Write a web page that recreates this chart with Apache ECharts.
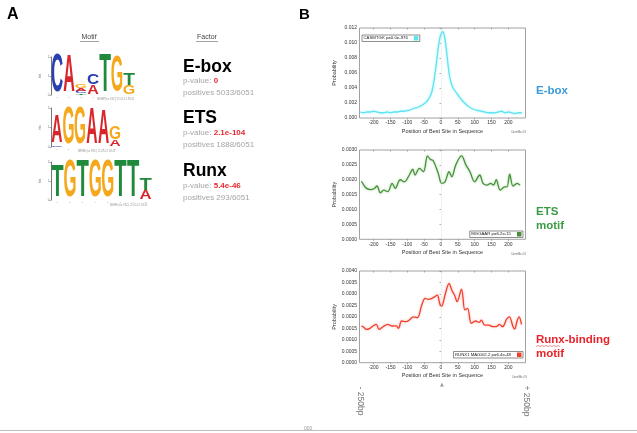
<!DOCTYPE html>
<html><head><meta charset="utf-8">
<script src="https://cdn.jsdelivr.net/npm/echarts@6/dist/echarts.min.js"></script>
<style>html,body{margin:0;padding:0;background:#fff}#c{width:637px;height:433px}</style>
</head><body><div id="c"></div>
<script>
// ---------- Data ----------
const positionTicks = [-200, -150, -100, -50, 0, 50, 100, 150, 200];

const eboxX = [-240,-230,-220,-210,-200,-190,-180,-170,-160,-150,-140,-130,-120,-110,-100,-90,-80,-70,-60,-50,-40,-35,-30,-25,-20,-15,-10,-5,0,5,10,15,20,25,30,35,40,50,60,70,80,90,100,110,120,130,140,150,160,170,180,190,200,210,220,230,240];
const eboxY = [0.0008,0.0007,0.0008,0.0008,0.0009,0.0008,0.0007,0.0007,0.0008,0.0007,0.0008,0.0008,0.0009,0.0009,0.0010,0.0011,0.0013,0.0014,0.0016,0.0019,0.0023,0.0027,0.0031,0.0039,0.0052,0.0068,0.0087,0.0103,0.0112,0.0115,0.0110,0.0095,0.0075,0.0057,0.0047,0.0041,0.0037,0.0031,0.0025,0.0020,0.0016,0.0013,0.0011,0.0010,0.0009,0.0008,0.0007,0.0007,0.0007,0.0008,0.0009,0.0007,0.0008,0.0007,0.0006,0.0007,0.0007];

const etsX = [-236,-231,-221,-209,-199,-190,-180,-170,-158,-145,-136,-121,-109,-94,-84,-77,-64,-52,-40,-32,-23,-8,2,12,24,32,44,61,74,86,100,115,125,137,147,156,164,176,189,196,204,214,226,235];
const etsY = [0.00195,0.00185,0.00171,0.00167,0.00170,0.00179,0.00156,0.00165,0.00160,0.00188,0.00171,0.00200,0.00193,0.00216,0.00236,0.00216,0.00238,0.00227,0.00280,0.00269,0.00264,0.00221,0.00188,0.00193,0.00227,0.00210,0.00250,0.00280,0.00250,0.00227,0.00193,0.00216,0.00188,0.00182,0.00188,0.00182,0.00200,0.00165,0.00176,0.00176,0.00219,0.00179,0.00188,0.00182];

const runxX = [-236,-231,-221,-211,-201,-192,-184,-172,-158,-145,-133,-126,-117,-104,-94,-82,-70,-57,-47,-37,-28,-18,-11,-3,2,12,24,32,41,48,61,71,79,90,103,113,120,130,142,154,164,174,183,195,203,214,219,226,232,239];
const runxY = [0.00160,0.00157,0.00145,0.00150,0.00161,0.00167,0.00145,0.00157,0.00167,0.00160,0.00161,0.00150,0.00182,0.00179,0.00186,0.00200,0.00196,0.00252,0.00281,0.00276,0.00280,0.00288,0.00295,0.00255,0.00247,0.00295,0.00346,0.00317,0.00292,0.00266,0.00321,0.00230,0.00237,0.00172,0.00182,0.00176,0.00186,0.00164,0.00164,0.00157,0.00157,0.00167,0.00157,0.00190,0.00200,0.00157,0.00147,0.00182,0.00200,0.00167];

const seriesNames = ['CASMTGK p=0.0e-976', 'MGGAAR p=6.2e-15', 'RUNX1 MA0002.2 p=6.4e-48'];

// sequence logos: columns bottom -> top, [letter, bits]
const eboxLogo = [[['C',2.0]], [['A',1.95]], [['T',0.08],['C',0.1],['A',0.15],['G',0.17]], [['A',0.5],['C',0.55]], [['T',2.0]], [['G',1.9]], [['G',0.45],['T',0.6]]];
const etsLogo  = [[['C',0.08],['A',1.45]], [['G',1.9]], [['G',1.9]], [['A',1.8]], [['A',1.75]], [['A',0.35],['G',0.65]]];
const runxLogo = [[['T',1.7]], [['G',1.95]], [['T',1.95]], [['G',1.95]], [['G',1.95]], [['T',1.95]], [['T',1.95]], [['A',0.45],['T',0.6]]];

// ---------- Helpers ----------
const LETTERS = 'ACGT';
const LETTER_COLORS = {A:'#d8262b', C:'#2a3fb0', G:'#f5a81c', T:'#1f8a3c'};
const INK_W = {A:0.72, C:0.68, G:0.72, T:0.60};
function logoData(cols){
  const out = [];
  cols.forEach((col, i) => {
    let base = 0;
    col.forEach(([l, b]) => { out.push([i + 1, base, base + b, LETTERS.indexOf(l)]); base += b; });
  });
  return out;
}
function renderLetter(params, api){
  const pos = api.value(0), y0 = api.value(1), y1 = api.value(2);
  const l = LETTERS[api.value(3)];
  const p0 = api.coord([pos - 0.5, y0]);
  const p1 = api.coord([pos + 0.5, y1]);
  const w = p1[0] - p0[0], h = p0[1] - p1[1];
  if (h < 0.2) return null;
  return {
    type: 'text',
    x: (p0[0] + p1[0]) / 2, y: (p0[1] + p1[1]) / 2,
    scaleX: w * 0.96 / (INK_W[l] * 100), scaleY: h / 71.6,
    style: {text: l, font: 'bold 100px "Liberation Sans", Arial', fill: LETTER_COLORS[l],
            align: 'center', verticalAlign: 'middle', textAlign: 'center', textVerticalAlign: 'middle'}
  };
}

const FONT = '"Liberation Sans", Arial, sans-serif';
const chartGrids = [
  {left: 359.5, top: 28, width: 166, height: 90},
  {left: 359.5, top: 150, width: 166, height: 89.3},
  {left: 359.5, top: 271, width: 166, height: 91.7}
];
const logoGrids = [
  {left: 51, top: 57, width: 84, height: 38},
  {left: 51, top: 108, width: 70, height: 39},
  {left: 51, top: 162, width: 101, height: 38}
];
const yMax = [0.012, 0.003, 0.004];
const yInt = [0.002, 0.0005, 0.0005];
const yDec = [3, 4, 4];
const colors = ['#5fe3ee', '#4a8f3e', '#f0412f'];
const glow = ['rgba(120,240,250,0.7)', 'rgba(140,210,130,0.8)', 'rgba(250,140,130,0.7)'];
const xs = [eboxX, etsX, runxX], ys = [eboxY, etsY, runxY];
const logos = [eboxLogo, etsLogo, runxLogo];

const grid = [], xAxis = [], yAxis = [], series = [], legend = [];
chartGrids.forEach((g, i) => {
  grid.push(Object.assign({show: true, borderColor: '#8a8a8a', borderWidth: 0.8, backgroundColor: '#fff'}, g));
  xAxis.push({
    type: 'value', gridIndex: i, min: -242, max: 251, position: 'bottom',
    name: 'Position of Best Site in Sequence', nameLocation: 'middle', nameGap: i === 2 ? 10 : 10.5,
    nameTextStyle: {fontSize: 5.5, color: '#333', fontFamily: FONT},
    axisLine: {show: false},
    axisTick: {show: true, length: 1.5, lineStyle: {color: '#777', width: 0.6}, customValues: positionTicks},
    axisLabel: {fontSize: 5, color: '#333', margin: 2.5, fontFamily: FONT, customValues: positionTicks},
    splitLine: {show: false}
  });
  yAxis.push({
    type: 'value', gridIndex: i, min: 0, max: yMax[i], interval: yInt[i],
    name: 'Probability', nameLocation: 'middle', nameGap: 22,
    nameTextStyle: {fontSize: 5.5, color: '#333', fontFamily: FONT},
    axisLine: {show: false},
    axisTick: {show: true, length: 1.5, lineStyle: {color: '#777', width: 0.6}},
    axisLabel: {fontSize: 5, color: '#333', margin: 2.5, fontFamily: FONT, formatter: v => v.toFixed(yDec[i])},
    splitLine: {show: false}
  });
  series.push({
    type: 'line', name: seriesNames[i], xAxisIndex: i, yAxisIndex: i,
    data: xs[i].map((x, k) => [x, ys[i][k]]),
    showSymbol: false, smooth: 0.35, color: colors[i],
    lineStyle: {width: 1.3, color: colors[i], shadowColor: glow[i], shadowBlur: 2.5},
    itemStyle: {color: colors[i]},
    silent: true, animation: false,
    markLine: {silent: true, symbol: ['none', 'none'], label: {show: false},
      lineStyle: {color: '#cfcfcf', type: 'dotted', width: 0.6}, data: [{xAxis: 0}]}
  });
});
// top axes (ticks only)
chartGrids.forEach((g, i) => {
  xAxis.push({
    type: 'value', gridIndex: i, min: -242, max: 251, position: 'top',
    axisLine: {show: false},
    axisTick: {show: true, inside: true, length: 1.5, lineStyle: {color: '#777', width: 0.6}, customValues: positionTicks},
    axisLabel: {show: false, customValues: positionTicks}, splitLine: {show: false}
  });
});
// logos
logoGrids.forEach((g, j) => {
  const gi = 3 + j;
  const n = logos[j].length;
  const posTicks = logos[j].map((c, k) => k + 1);
  grid.push(Object.assign({show: false}, g));
  xAxis.push({
    type: 'value', gridIndex: gi, min: 0.5, max: n + 0.5,
    axisLine: {show: false}, axisTick: {show: false},
    axisLabel: {fontSize: 2.5, color: '#999', margin: 1, customValues: posTicks},
    splitLine: {show: false}
  });
  yAxis.push({
    type: 'value', gridIndex: gi, min: 0, max: 2, interval: 1,
    name: 'bits', nameLocation: 'middle', nameGap: 9, nameTextStyle: {fontSize: 3, color: '#777'},
    axisLine: {show: true, lineStyle: {color: '#555', width: 0.8}},
    axisTick: {show: true, length: 1.5, lineStyle: {color: '#555', width: 0.5}},
    axisLabel: {fontSize: 3, color: '#777', margin: 1.5},
    splitLine: {show: false}
  });
  series.push({
    type: 'custom', name: 'logo' + j, xAxisIndex: 6 + j, yAxisIndex: gi,
    data: logoData(logos[j]), renderItem: renderLetter, silent: true, animation: false, clip: false
  });
});

const legendPos = [
  {left: 362, top: 35},
  {right: 114, top: 231},
  {right: 114, top: 351.5}
];
legendPos.forEach((p, i) => {
  legend.push(Object.assign({
    data: [seriesNames[i]], orient: 'horizontal', align: 'right', icon: 'rect',
    itemWidth: 4.5, itemHeight: 4.5, padding: [1, 1.5], itemGap: 0,
    borderColor: '#444', borderWidth: 0.6, backgroundColor: '#fff', borderRadius: 0,
    selectedMode: false,
    textStyle: {fontSize: 4.3, color: '#222', fontFamily: FONT, padding: [0, 1, 0, 0]}
  }, p));
});

function t(left, top, text, style, extra){
  return Object.assign({type: 'text', left: left, top: top, style: Object.assign({text: text, fontFamily: FONT}, style)}, extra || {});
}
function factor(y, name, p, pos){
  return [
    {type: 'text', x: 183, y: y, style: {text: name, font: 'bold 17.5px ' + FONT, fill: '#000', verticalAlign: 'middle'}},
    {type: 'text', x: 183, y: y + 14, style: {text: 'p-value: {r|' + p + '}', fontSize: 8, fontFamily: FONT, fill: '#a5a5a5', verticalAlign: 'middle',
      rich: {r: {fill: '#e8282d', fontWeight: 'bold', fontSize: 8, fontFamily: FONT}}}},
    {type: 'text', x: 183, y: y + 26, style: {text: 'positives ' + pos, fontSize: 8, fontFamily: FONT, fill: '#a5a5a5', verticalAlign: 'middle'}}
  ];
}
const graphic = [].concat(
  [
    {type: 'text', x: 7, y: 15, style: {text: 'A', font: 'bold 16px ' + FONT, fill: '#000', verticalAlign: 'middle'}},
    {type: 'text', x: 299, y: 15, style: {text: 'B', font: 'bold 15px ' + FONT, fill: '#000', verticalAlign: 'middle'}},
    {type: 'text', x: 89, y: 37.5, style: {text: 'Motif', fontSize: 7, fontFamily: FONT, fill: '#444', align: 'center', verticalAlign: 'middle'}},
    {type: 'line', shape: {x1: 80, y1: 41.5, x2: 99, y2: 41.5}, style: {stroke: '#666', lineWidth: 0.6}},
    {type: 'text', x: 207, y: 37.5, style: {text: 'Factor', fontSize: 7, fontFamily: FONT, fill: '#444', align: 'center', verticalAlign: 'middle'}},
    {type: 'line', shape: {x1: 196, y1: 41.5, x2: 218, y2: 41.5}, style: {stroke: '#666', lineWidth: 0.6}},
    {type: 'text', x: 97, y: 99.5, style: {text: 'MEME (no SSC) 21.05.13 18:45', fontSize: 2.6, fontFamily: FONT, fill: '#999', verticalAlign: 'middle'}},
    {type: 'text', x: 78, y: 151.5, style: {text: 'MEME (no SSC) 21.05.13 18:45', fontSize: 2.6, fontFamily: FONT, fill: '#999', verticalAlign: 'middle'}},
    {type: 'text', x: 110, y: 205, style: {text: 'MEME (no SSC) 21.05.13 18:45', fontSize: 2.6, fontFamily: FONT, fill: '#999', verticalAlign: 'middle'}}
  ],
  factor(67, 'E-box', '0', '5033/6051'),
  factor(118.5, 'ETS', '2.1e-104', '1888/6051'),
  factor(171.5, 'Runx', '5.4e-46', '293/6051'),
  [
    {type: 'text', x: 536, y: 91, style: {text: 'E-box', font: 'bold 11.5px ' + FONT, fill: '#3a9bd8', verticalAlign: 'middle'}},
    {type: 'text', x: 536, y: 212, style: {text: 'ETS', font: 'bold 11.5px ' + FONT, fill: '#3a9a46', verticalAlign: 'middle'}},
    {type: 'text', x: 536, y: 226, style: {text: 'motif', font: 'bold 11.5px ' + FONT, fill: '#3a9a46', verticalAlign: 'middle'}},
    {type: 'text', x: 536, y: 340, style: {text: 'Runx-binding', font: 'bold 11.5px ' + FONT, fill: '#e8232b', verticalAlign: 'middle'}},
    {type: 'polyline', shape: {points: [[536,346.5],[538,345.5],[540,346.5],[542,345.5],[544,346.5],[546,345.5],[548,346.5],[550,345.5],[552,346.5],[554,345.5],[556,346.5],[558,345.5],[560,346.5]]}, style: {stroke: '#e05050', lineWidth: 0.6, fill: null}},
    {type: 'text', x: 536, y: 353.5, style: {text: 'motif', font: 'bold 11.5px ' + FONT, fill: '#e8232b', verticalAlign: 'middle'}},
    {type: 'text', x: 511, y: 132, style: {text: 'CentriMo 4.9', fontSize: 2.6, fontFamily: FONT, fill: '#666', verticalAlign: 'middle'}},
    {type: 'text', x: 511, y: 254, style: {text: 'CentriMo 4.9', fontSize: 2.6, fontFamily: FONT, fill: '#666', verticalAlign: 'middle'}},
    {type: 'text', x: 512, y: 377, style: {text: 'CentriMo 4.9', fontSize: 2.6, fontFamily: FONT, fill: '#666', verticalAlign: 'middle'}},
    {type: 'text', x: 360, y: 401, rotation: -Math.PI / 2, style: {text: '- 250bp', fontSize: 8.5, fontFamily: FONT, fill: '#777', align: 'center', verticalAlign: 'middle'}},
    {type: 'text', x: 526, y: 401, rotation: -Math.PI / 2, style: {text: '+ 250bp', fontSize: 8.5, fontFamily: FONT, fill: '#777', align: 'center', verticalAlign: 'middle'}},
    {type: 'text', x: 442, y: 385, style: {text: '▲', fontSize: 5, fontFamily: '"DejaVu Sans"', fill: '#999', align: 'center', verticalAlign: 'middle'}},
    {type: 'line', shape: {x1: 0, y1: 430.5, x2: 637, y2: 430.5}, style: {stroke: '#bdbdbd', lineWidth: 1}},
    {type: 'text', x: 304, y: 428.5, style: {text: '000', fontSize: 5, fontFamily: FONT, fill: '#999', verticalAlign: 'middle'}}
  ]
);

const chart = echarts.init(document.getElementById('c'), null, {renderer: 'canvas'});
chart.setOption({
  animation: false,
  backgroundColor: '#fff',
  grid: grid, xAxis: xAxis, yAxis: yAxis, series: series, legend: legend, graphic: graphic
});
</script>
</body></html>
